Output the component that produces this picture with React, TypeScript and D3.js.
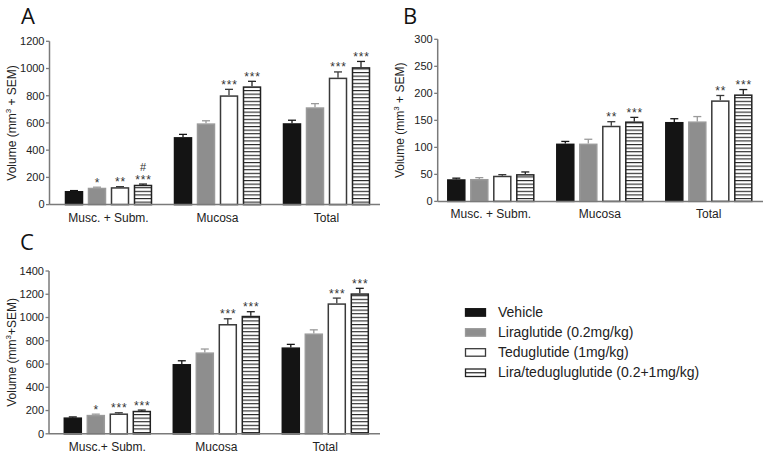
import React from "react";
import * as d3 from "d3";

const categoriesAB = ["Musc. + Subm.", "Mucosa", "Total"];
const categoriesC = ["Musc.+ Subm.", "Mucosa", "Total"];
const seriesNames = [
  "Vehicle",
  "Liraglutide (0.2mg/kg)",
  "Teduglutide (1mg/kg)",
  "Lira/tedugluglutide (0.2+1mg/kg)",
];

// Panel A
const aValues = [
  [100, 124, 128, 146],
  [496, 597, 803, 869],
  [598, 715, 933, 1010],
];
const aSem = [
  [3, 4, 4, 5],
  [20, 19, 44, 37],
  [22, 27, 42, 42],
];
const aStars = [
  ["", "*", "**", "***"],
  ["", "", "***", "***"],
  ["", "", "***", "***"],
];
const aHash = [
  ["", "", "", "#"],
  ["", "", "", ""],
  ["", "", "", ""],
];
const aTicks = [0, 200, 400, 600, 800, 1000, 1200];

// Panel B
const bValues = [
  [41, 41.5, 47.5, 50.5],
  [107, 107, 140, 148],
  [147, 148, 187, 198],
];
const bSem = [
  [2, 2.5, 2, 4],
  [4, 8, 7.5, 7.5],
  [6, 9, 9, 9],
];
const bStars = [
  ["", "", "", ""],
  ["", "", "**", "***"],
  ["", "", "**", "***"],
];
const bTicks = [0, 50, 100, 150, 200, 250, 300];

// Panel C
const cValues = [
  [141, 163, 175, 198],
  [600, 700, 944, 1015],
  [743, 863, 1122, 1208],
];
const cSem = [
  [4, 6, 6, 6],
  [28, 29, 45, 35],
  [26, 31, 45, 43],
];
const cStars = [
  ["", "*", "***", "***"],
  ["", "", "***", "***"],
  ["", "", "***", "***"],
];
const cTicks = [0, 200, 400, 600, 800, 1000, 1200, 1400];

const FONT = "'Liberation Sans', Arial, sans-serif";
const AXIS = "#7a7a7a";
const fills = ["#141414", "#8e8e8e", "#ffffff", "url(#stripes)"];
const strokes = ["#141414", "#9a9a9a", "#3a3a3a", "#222222"];
const errColors = ["#141414", "#9a9a9a", "#3a3a3a", "#222222"];

type PanelProps = {
  letter: string;
  letterX: number;
  letterY: number;
  axisX: number;
  axisEnd: number;
  bandStart: number;
  bandEnd: number;
  y0: number;
  y1: number;
  maxV: number;
  ticks: number[];
  categories: string[];
  values: number[][];
  sem: number[][];
  stars: string[][];
  hash?: string[][];
  yLabelParts: [string, string];
};

function Panel(p: PanelProps) {
  const y = d3.scaleLinear().domain([0, p.maxV]).range([p.y0, p.y1]);
  const xg = d3.scaleBand<string>().domain(p.categories).range([p.bandStart, p.bandEnd]);
  const inner = d3
    .scaleBand<number>()
    .domain([0, 1, 2, 3])
    .range([-43.75, 43.75])
    .paddingInner(4.5 / 23);
  const bw = inner.bandwidth();
  const midY = (p.y0 + p.y1) / 2;
  return (
    <g>
      <text x={p.letterX} y={p.letterY} fontFamily="'Open Sans', sans-serif" fontSize={22} fill="#111">
        {p.letter}
      </text>
      <text
        transform={`translate(${p.axisX - 33.5},${midY}) rotate(-90)`}
        textAnchor="middle"
        fontFamily={FONT}
        fontSize={12}
        fill="#222"
      >
        {p.yLabelParts[0]}
        <tspan fontSize={8} dy={-5}>3</tspan>
        <tspan dy={5}>{p.yLabelParts[1]}</tspan>
      </text>
      {p.categories.map((c, gi) => {
        const cx = (xg(c) as number) + xg.bandwidth() / 2;
        return (
          <g key={c}>
            {p.values[gi].map((v, si) => {
              const x = cx + (inner(si) as number);
              const top = y(v);
              const et = y(v + p.sem[gi][si]);
              const mx = x + bw / 2;
              const star = p.stars[gi][si];
              const hash = p.hash ? p.hash[gi][si] : "";
              return (
                <g key={si}>
                  <line x1={mx} x2={mx} y1={top} y2={et} stroke={errColors[si]} strokeWidth={1.3} />
                  <line x1={mx - 4} x2={mx + 4} y1={et} y2={et} stroke={errColors[si]} strokeWidth={1.3} />
                  <rect
                    x={x + 0.75}
                    y={top + 0.75}
                    width={bw - 1.5}
                    height={p.y0 - top - 0.75}
                    fill={fills[si]}
                    stroke={strokes[si]}
                    strokeWidth={1.5}
                  />
                  {star && (
                    <text
                      x={mx + 0.5}
                      y={et - 0.5}
                      textAnchor="middle"
                      fontFamily={FONT}
                      fontSize={12}
                      letterSpacing={0.8}
                      fill="#333"
                    >
                      {star}
                    </text>
                  )}
                  {hash && (
                    <text x={mx} y={et - 13.5} textAnchor="middle" fontFamily={FONT} fontSize={11} fill="#333">
                      {hash}
                    </text>
                  )}
                </g>
              );
            })}
            <text x={cx} y={p.y0 + 17} textAnchor="middle" fontFamily={FONT} fontSize={12} fill="#222">
              {c}
            </text>
          </g>
        );
      })}
      <line x1={p.axisX} x2={p.axisX} y1={p.y1} y2={p.y0} stroke={AXIS} strokeWidth={1.5} />
      <line x1={p.axisX} x2={p.axisEnd} y1={p.y0} y2={p.y0} stroke={AXIS} strokeWidth={1.5} />
      {p.ticks.map((t) => (
        <g key={t}>
          <line x1={p.axisX - 3.5} x2={p.axisX} y1={y(t)} y2={y(t)} stroke={AXIS} strokeWidth={1.3} />
          <text
            x={p.axisX - 5}
            y={y(t)}
            dy="0.35em"
            textAnchor="end"
            fontFamily={FONT}
            fontSize={11}
            fill="#222"
          >
            {t}
          </text>
        </g>
      ))}
    </g>
  );
}

export default function App() {
  const legendY = [316.7, 336.7, 356.7, 377];
  return (
    <svg
      width={764}
      height={454}
      style={{ position: "absolute", left: 0, top: 0, background: "#fff" }}
    >
      <defs>
        <pattern id="stripes" patternUnits="userSpaceOnUse" width={8} height={3.6}>
          <rect width={8} height={3.6} fill="#fff" />
          <rect y={0} width={8} height={1.1} fill="#222" />
        </pattern>
      </defs>
      <rect width={764} height={454} fill="#fff" />
      <Panel
        letter="A"
        letterX={21}
        letterY={23.5}
        axisX={49.5}
        axisEnd={380}
        bandStart={54}
        bandEnd={381}
        y0={204.6}
        y1={41.3}
        maxV={1200}
        ticks={aTicks}
        categories={categoriesAB}
        values={aValues}
        sem={aSem}
        stars={aStars}
        hash={aHash}
        yLabelParts={["Volume (mm", " + SEM)"]}
      />
      <Panel
        letter="B"
        letterX={403}
        letterY={23.5}
        axisX={437.7}
        axisEnd={763}
        bandStart={436.3}
        bandEnd={763.3}
        y0={201.4}
        y1={39.3}
        maxV={300}
        ticks={bTicks}
        categories={categoriesAB}
        values={bValues}
        sem={bSem}
        stars={bStars}
        yLabelParts={["Volume (mm", " + SEM)"]}
      />
      <Panel
        letter="C"
        letterX={20}
        letterY={250}
        axisX={49}
        axisEnd={380}
        bandStart={52.8}
        bandEnd={379.8}
        y0={433.8}
        y1={271}
        maxV={1400}
        ticks={cTicks}
        categories={categoriesC}
        values={cValues}
        sem={cSem}
        stars={cStars}
        yLabelParts={["Volume (mm", "+SEM)"]}
      />
      {seriesNames.map((n, i) => (
        <g key={n}>
          <rect
            x={465.5}
            y={legendY[i] - 8}
            width={20}
            height={7.5}
            fill={i === 3 ? "#fff" : fills[i]}
            stroke={strokes[i]}
            strokeWidth={1.3}
          />
          {i === 3 && (
            <line x1={465.5} x2={485.5} y1={legendY[i] - 4.25} y2={legendY[i] - 4.25} stroke="#222" strokeWidth={1.2} />
          )}
          <text x={498} y={legendY[i]} fontFamily={FONT} fontSize={14} fill="#222">
            {n}
          </text>
        </g>
      ))}
    </svg>
  );
}
